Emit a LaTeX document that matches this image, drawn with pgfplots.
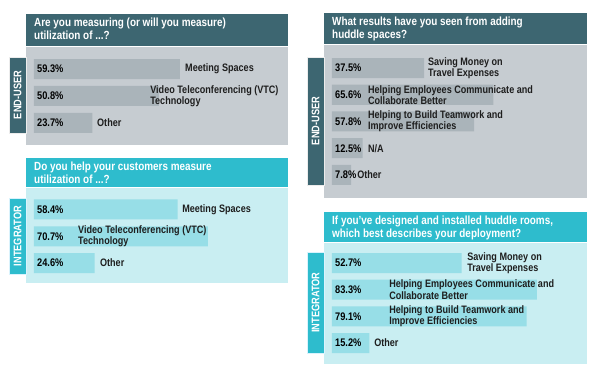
\documentclass[border=0pt]{standalone}
\usepackage{fontspec}
\setmainfont{Liberation Sans}[FakeStretch=0.84]
\usepackage{pgfplots}
\pgfplotsset{compat=1.18}
\definecolor{dteal}{HTML}{3D6671}
\definecolor{gbody}{HTML}{C6CCD1}
\definecolor{gbar}{HTML}{AAB4BA}
\definecolor{cyanh}{HTML}{2EBCCD}
\definecolor{cbody}{HTML}{C9EEF2}
\definecolor{cbar}{HTML}{97DEE7}
\definecolor{txt}{HTML}{1E1E1E}
\newcommand{\hfont}{\fontsize{11.8}{12.8}\selectfont\bfseries}
\newcommand{\lfont}{\fontsize{10.8}{11.2}\selectfont\bfseries}
\newcommand{\pfont}{\fontsize{11}{12}\selectfont\bfseries}
\newcommand{\sfont}{\fontsize{11}{12}\selectfont\bfseries}
\pgfplotsset{panel/.style={scale only axis, xbar, bar width=20pt,
  axis line style={draw=none}, xtick=\empty, ytick=\empty, y dir=reverse,
  clip=false, anchor=center}}
\tikzset{pct/.style={anchor=west, xshift=3pt, font=\pfont, text=black, inner sep=0pt},
  lab/.style={anchor=west, font=\lfont, text=txt, align=left, inner sep=0pt}}
\begin{document}
\begin{tikzpicture}[x=1pt,y=1pt]
\useasboundingbox (0,0) rectangle (600,375);
\fill[white] (0,0) rectangle (600,375);
% ---------- Panel 1 ----------
\begin{axis}[panel, at={(157pt,279pt)}, width=262pt, height=98pt,
  xmin=-3.25, xmax=103.25, ymin=0.185, ymax=3.815,
  axis background/.style={fill=gbody}]
\addplot[fill=gbar, draw=none] coordinates {(59.3,1) (50.8,2) (23.7,3)};
\node[pct] at (axis cs:0,1) {59.3\%};
\node[pct] at (axis cs:0,2) {50.8\%};
\node[pct] at (axis cs:0,3) {23.7\%};
\node[lab] at (axis cs:61.4,1) {Meeting Spaces};
\node[lab] at (axis cs:47.2,2) {Video Teleconferencing (VTC)\\Technology};
\node[lab] at (axis cs:25.6,3) {Other};
\end{axis}
% ---------- Panel 2 ----------
\begin{axis}[panel, at={(157pt,139.5pt)}, width=262pt, height=95pt,
  xmin=-3.25, xmax=103.25, ymin=0.204, ymax=3.74,
  axis background/.style={fill=cbody}]
\addplot[fill=cbar, draw=none] coordinates {(58.4,1) (70.7,2) (24.6,3)};
\node[pct] at (axis cs:0,1) {58.4\%};
\node[pct] at (axis cs:0,2) {70.7\%};
\node[pct] at (axis cs:0,3) {24.6\%};
\node[lab] at (axis cs:60.2,1) {Meeting Spaces};
\node[lab] at (axis cs:17.9,2) {Video Teleconferencing (VTC)\\Technology};
\node[lab] at (axis cs:26.8,3) {Other};
\end{axis}
% ---------- Panel 3 ----------
\begin{axis}[panel, at={(455.5pt,253.5pt)}, width=263pt, height=153pt,
  xmin=-3.25, xmax=103.66, ymin=0.14, ymax=5.86,
  axis background/.style={fill=gbody}]
\addplot[fill=gbar, draw=none] coordinates {(37.5,1) (65.6,2) (57.8,3) (12.5,4) (7.8,5)};
\node[pct] at (axis cs:0,1) {37.5\%};
\node[pct] at (axis cs:0,2) {65.6\%};
\node[pct] at (axis cs:0,3) {57.8\%};
\node[pct] at (axis cs:0,4) {12.5\%};
\node[pct] at (axis cs:0,5) {7.8\%};
\node[lab] at (axis cs:39.0,1) {Saving Money on\\Travel Expenses};
\node[lab] at (axis cs:14.6,2) {Helping Employees Communicate and\\Collaborate Better};
\node[lab] at (axis cs:14.6,3) {Helping to Build Teamwork and\\Improve Efficiencies};
\node[lab] at (axis cs:14.6,4) {N/A};
\node[lab] at (axis cs:10.2,5) {Other};
\end{axis}
% ---------- Panel 4 ----------
\begin{axis}[panel, at={(455.5pt,71.5pt)}, width=263pt, height=121pt,
  xmin=-3.25, xmax=103.66, ymin=0.25, ymax=4.787,
  axis background/.style={fill=cbody}]
\addplot[fill=cbar, draw=none] coordinates {(52.7,1) (83.3,2) (79.1,3) (15.2,4)};
\node[pct] at (axis cs:0,1) {52.7\%};
\node[pct] at (axis cs:0,2) {83.3\%};
\node[pct] at (axis cs:0,3) {79.1\%};
\node[pct] at (axis cs:0,4) {15.2\%};
\node[lab] at (axis cs:54.9,1) {Saving Money on\\Travel Expenses};
\node[lab] at (axis cs:23.2,2) {Helping Employees Communicate and\\Collaborate Better};
\node[lab] at (axis cs:23.2,3) {Helping to Build Teamwork and\\Improve Efficiencies};
\node[lab] at (axis cs:17.1,4) {Other};
\end{axis}
% ---------- Headers ----------
\fill[dteal] (26,361) rectangle (288,329);
\node[anchor=north west, text=white, align=left, font=\hfont, inner sep=0pt] at (34,357.5)
  {Are you measuring (or will you measure)\\utilization of ...?};
\fill[cyanh] (26,217) rectangle (288,187.5);
\node[anchor=north west, text=white, align=left, font=\hfont, inner sep=0pt] at (34,213.5)
  {Do you help your customers measure\\utilization of ...?};
\fill[dteal] (324,362) rectangle (587,331);
\node[anchor=north west, text=white, align=left, font=\hfont, inner sep=0pt] at (332,358.5)
  {What results have you seen from adding\\huddle spaces?};
\fill[cyanh] (324,163) rectangle (587,132.5);
\node[anchor=north west, text=white, align=left, font=\hfont, inner sep=0pt] at (332,159.5)
  {If you've designed and installed huddle rooms,\\which best describes your deployment?};
% ---------- Side labels ----------
\filldraw[fill=dteal, draw=white!85!gray, line width=0.8pt] (9,318) rectangle (26,242);
\node[rotate=90, text=white, font=\sfont] at (17.5,280) {END-USER};
\filldraw[fill=cyanh, draw=white!85!cyan, line width=0.8pt] (9,177) rectangle (26,101);
\node[rotate=90, text=white, font=\sfont] at (17.5,139) {INTEGRATOR};
\filldraw[fill=dteal, draw=white!85!gray, line width=0.8pt] (307,318) rectangle (324,190);
\node[rotate=90, text=white, font=\sfont] at (315.5,254) {END-USER};
\filldraw[fill=cyanh, draw=white!85!cyan, line width=0.8pt] (307,123) rectangle (324,22);
\node[rotate=90, text=white, font=\sfont] at (315.5,72.5) {INTEGRATOR};
\end{tikzpicture}
\end{document}
